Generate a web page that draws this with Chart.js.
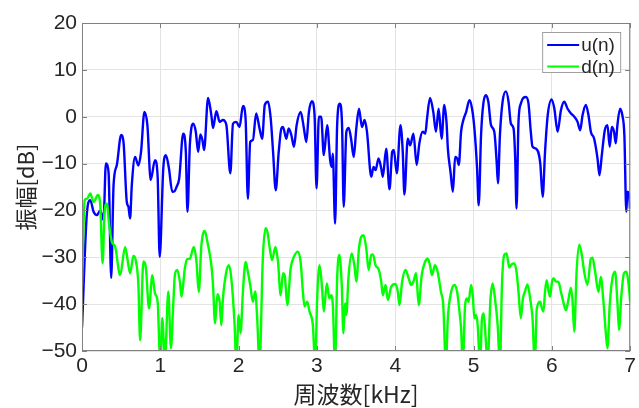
<!DOCTYPE html>
<html>
<head>
<meta charset="utf-8">
<script src="https://cdn.jsdelivr.net/npm/chart.js@4/dist/chart.umd.min.js"></script>
<style>
  body { margin: 0; background: #fff; }
  #wrap { width: 639px; height: 408px; }
</style>
</head>
<body>
<div id="wrap"><canvas id="myChart" width="639" height="408"></canvas></div>
<script>
// frequency axis [kHz] and levels [dB]
const uFreq = [0, 0.064, 0.106, 0.148, 0.191, 0.233, 0.275, 0.305, 0.339, 0.373, 0.403, 0.445, 0.5, 0.53, 0.572, 0.593, 0.614, 0.636, 0.678, 0.72, 0.754, 0.797, 0.835, 0.877, 0.932, 0.966, 0.992, 1.038, 1.072, 1.11, 1.153, 1.182, 1.207, 1.241, 1.292, 1.326, 1.347, 1.377, 1.419, 1.453, 1.483, 1.512, 1.538, 1.559, 1.61, 1.652, 1.673, 1.716, 1.758, 1.8, 1.843, 1.894, 1.928, 1.97, 2.012, 2.055, 2.089, 2.118, 2.148, 2.182, 2.224, 2.267, 2.301, 2.334, 2.376, 2.41, 2.44, 2.474, 2.512, 2.546, 2.567, 2.609, 2.639, 2.673, 2.707, 2.741, 2.792, 2.834, 2.864, 2.898, 2.936, 2.97, 2.995, 3.025, 3.054, 3.088, 3.131, 3.169, 3.19, 3.203, 3.232, 3.258, 3.292, 3.321, 3.342, 3.376, 3.406, 3.436, 3.47, 3.503, 3.537, 3.575, 3.609, 3.639, 3.694, 3.723, 3.749, 3.787, 3.821, 3.842, 3.884, 3.927, 3.961, 3.982, 4.02, 4.067, 4.096, 4.117, 4.16, 4.19, 4.232, 4.274, 4.308, 4.35, 4.384, 4.406, 4.444, 4.486, 4.52, 4.554, 4.592, 4.626, 4.656, 4.672, 4.706, 4.736, 4.765, 4.791, 4.812, 4.841, 4.875, 4.905, 4.947, 4.981, 5.011, 5.045, 5.066, 5.096, 5.125, 5.159, 5.189, 5.223, 5.265, 5.295, 5.312, 5.337, 5.371, 5.414, 5.447, 5.477, 5.511, 5.532, 5.549, 5.574, 5.604, 5.668, 5.702, 5.731, 5.753, 5.795, 5.854, 5.862, 5.883, 5.913, 5.947, 5.998, 6.032, 6.074, 6.116, 6.159, 6.201, 6.244, 6.286, 6.328, 6.362, 6.392, 6.434, 6.468, 6.498, 6.54, 6.583, 6.608, 6.638, 6.676, 6.71, 6.739, 6.765, 6.794, 6.816, 6.837, 6.871, 6.9, 6.926, 6.951, 6.964, 6.985, 6.998];
const uDb = [-45, -20.3, -17.8, -20.3, -21, -20, -22, -10, -11.8, -34.4, -14.6, -10.3, -3.9, -5.4, -18.2, -19.2, -21.7, -14.6, -8.6, -10.4, -7.5, 1.0, -1.8, -13.5, -9.3, -12.8, -29.9, -11, -8.2, -11, -16, -15.9, -15, -13.2, -3.6, -7.5, -20.3, -6.1, -1.5, -3.2, -7.5, -3.8, -5, -7.1, 4.0, 0.3, -2.4, 1.2, -1.1, -0.7, -1.7, -12.1, -1.5, -1.1, -2.2, 2.3, -0.4, -17.5, -5.4, -5, 0.7, -2.5, -4.7, 2.5, 3.2, -0.4, -7.5, -15.7, -7.5, -2.5, -2.2, -4.7, -2.5, -3.9, -6.4, -1.8, 1.0, -2.5, -5.4, 1.0, 3.3, 0.3, -15.3, 0, 0, -8.2, -1.8, -9.3, -10.7, -7.9, -22.8, -1.8, 2.8, -1.8, -19.2, -3.2, -2.4, -4.7, -8.6, -2.5, 1.7, -2.2, -0.7, -3.2, -12.8, -10.7, -11.4, -8.9, -11, -12.8, -6.8, -15.5, -7.5, -7.1, -12.1, -1.8, -7.5, -16.6, -4.7, -6.1, -3.6, -10.3, -5.7, -3.2, -3.6, -0.4, 4.0, 1.0, -3.2, 1.7, -4.7, 2.5, -1.5, -6.8, -11.8, -16, -8.6, -8.9, -10.3, -3.2, -0.4, 1.0, 3.5, 1.7, -2.5, -11, -18.9, -3.9, 2.8, 4.6, 3.2, -1.8, -3.2, -9.6, -14.2, -3.9, 3.2, 5.4, 3.2, -1.5, -2.5, -8.9, -19.6, -1.1, 2.8, 4.2, 2.8, -3.2, -6.4, -6.8, -10.3, -12.5, -17.1, -7.5, 0.3, 3.7, 1.7, -3.2, 1.4, 3.2, 1.7, 0.7, 0, -1.1, -2.9, 0.3, 2.5, 0.3, -3.2, -4.7, -8.9, -12.5, -8.2, -2.9, -1.8, -6.4, -2.2, -3.2, -5.7, -1.8, 1.7, 0.3, -3.9, -20.3, -16, -16.4, -19.6];

const dFreq = [0, 0.034, 0.064, 0.106, 0.148, 0.203, 0.233, 0.263, 0.288, 0.318, 0.347, 0.381, 0.424, 0.487, 0.551, 0.614, 0.657, 0.686, 0.72, 0.742, 0.784, 0.814, 0.856, 0.898, 0.932, 0.966, 1.0, 1.025, 1.059, 1.102, 1.136, 1.165, 1.186, 1.216, 1.25, 1.271, 1.313, 1.343, 1.377, 1.428, 1.462, 1.491, 1.525, 1.568, 1.601, 1.652, 1.673, 1.699, 1.729, 1.758, 1.779, 1.8, 1.843, 1.877, 1.907, 1.949, 1.97, 2.0, 2.025, 2.055, 2.089, 2.118, 2.148, 2.182, 2.212, 2.237, 2.267, 2.309, 2.343, 2.368, 2.398, 2.427, 2.47, 2.503, 2.537, 2.567, 2.588, 2.622, 2.664, 2.707, 2.758, 2.792, 2.821, 2.842, 2.876, 2.906, 2.948, 2.978, 3.003, 3.033, 3.063, 3.088, 3.126, 3.16, 3.181, 3.203, 3.232, 3.258, 3.287, 3.317, 3.338, 3.359, 3.376, 3.402, 3.444, 3.478, 3.503, 3.537, 3.567, 3.596, 3.63, 3.66, 3.694, 3.715, 3.749, 3.791, 3.821, 3.842, 3.876, 3.906, 3.948, 4.003, 4.033, 4.054, 4.088, 4.13, 4.172, 4.202, 4.232, 4.266, 4.3, 4.338, 4.38, 4.414, 4.444, 4.469, 4.507, 4.541, 4.584, 4.613, 4.647, 4.672, 4.714, 4.757, 4.791, 4.82, 4.841, 4.863, 4.892, 4.918, 4.935, 4.969, 4.99, 5.011, 5.032, 5.053, 5.083, 5.108, 5.13, 5.155, 5.18, 5.214, 5.244, 5.274, 5.308, 5.337, 5.363, 5.392, 5.422, 5.456, 5.486, 5.519, 5.549, 5.574, 5.604, 5.63, 5.655, 5.689, 5.723, 5.753, 5.782, 5.808, 5.854, 5.862, 5.892, 5.913, 5.934, 5.96, 5.977, 6.002, 6.023, 6.053, 6.083, 6.116, 6.146, 6.18, 6.214, 6.244, 6.265, 6.286, 6.316, 6.35, 6.383, 6.413, 6.455, 6.498, 6.519, 6.553, 6.595, 6.625, 6.659, 6.688, 6.71, 6.739, 6.773, 6.807, 6.837, 6.858, 6.888, 6.921, 6.951, 6.985, 7.0];
const dDb = [-36.3, -17.8, -17.5, -16.4, -18.2, -16.7, -18.9, -31.3, -20.3, -18.5, -23.1, -26.7, -27.8, -33.8, -27.8, -33.4, -29.7, -30.6, -35.9, -47.7, -30.9, -32, -40.9, -33.8, -37.7, -39.5, -53, -43, -52, -37.3, -49.4, -40.2, -33.8, -32.7, -35.2, -38.4, -32.4, -30.4, -30.3, -27.8, -31, -37.4, -27.4, -24.4, -26.7, -31.7, -35.9, -44.1, -37.9, -39.5, -44.5, -38.8, -33.1, -31.7, -34.5, -44.5, -53, -42.3, -46.2, -37.3, -31, -33.1, -35.9, -39.5, -37.3, -43, -53, -30.3, -23.8, -24.6, -28.1, -30.6, -27.8, -31, -38.1, -33.4, -33.8, -40.2, -32.4, -29.9, -28.8, -31, -37.4, -40.5, -39.5, -41.6, -44.5, -53, -38.8, -31.7, -35.9, -41.6, -35.6, -38.8, -38.1, -40.2, -53, -34.5, -29.5, -35.9, -46.2, -39.8, -42.3, -34.5, -29.2, -31.7, -35.2, -28.1, -25.6, -25.3, -28.1, -32.7, -29.5, -29.4, -31.7, -32.7, -35.2, -38.1, -35.9, -39.1, -36.3, -35.7, -37.4, -40.2, -35.2, -32.7, -34.5, -35.9, -35.2, -33.4, -40.2, -33.8, -31, -30.3, -31.7, -33.8, -31.7, -33.1, -37.4, -40.2, -53, -43, -37.4, -35.9, -37.4, -41.6, -45.2, -53, -40.2, -38.8, -39.5, -35.9, -38.1, -43, -42.3, -44.5, -53, -43, -42, -47.3, -53, -39.5, -35.6, -38.8, -44.5, -53, -35.9, -29.5, -29.2, -32.2, -31.5, -31.3, -33.1, -37.4, -43, -38.8, -37.4, -35.8, -38.8, -43, -53, -40.9, -39.5, -40.2, -41.6, -37.4, -34.9, -37.4, -38.4, -35.2, -34.5, -35.2, -35.2, -37.4, -39.5, -41.3, -38.8, -36.5, -39.5, -45.9, -33.1, -27.3, -29.5, -33.1, -35.9, -30.3, -30.1, -33.1, -37.4, -34.2, -39.5, -45.9, -49.4, -40.2, -34.5, -33.1, -39.5, -45.5, -38.1, -33.4, -33.1, -36.6, -39.5];

const xTicks = [0, 1, 2, 3, 4, 5, 6, 7];
const yTicks = [-50, -40, -30, -20, -10, 0, 10, 20];

const toPoints = (xs, ys) => xs.map((x, i) => ({ x: x, y: ys[i] }));

// box, inward ticks and the legend, drawn like the original figure
const boxPlugin = {
    id: 'boxPlugin',
    afterDraw(chart) {
        const ctx = chart.ctx;
        const a = chart.chartArea;
        const xs = chart.scales.x, ys = chart.scales.y;
        ctx.save();
        ctx.strokeStyle = '#808080';
        ctx.lineWidth = 1;
        ctx.strokeRect(a.left + 0.5, a.top + 0.5, a.right - a.left - 1, a.bottom - a.top - 1);
        ctx.beginPath();
        xTicks.forEach(t => {
            const px = Math.round(xs.getPixelForValue(t)) + 0.5;
            ctx.moveTo(px, a.bottom); ctx.lineTo(px, a.bottom - 5);
            ctx.moveTo(px, a.top); ctx.lineTo(px, a.top + 5);
        });
        yTicks.forEach(t => {
            const py = Math.round(ys.getPixelForValue(t)) + 0.5;
            ctx.moveTo(a.left, py); ctx.lineTo(a.left + 5, py);
            ctx.moveTo(a.right, py); ctx.lineTo(a.right - 5, py);
        });
        ctx.stroke();

        // legend
        const lx = a.right - 88, ly = a.top + 9, lw = 78, lh = 40;
        ctx.fillStyle = '#ffffff';
        ctx.fillRect(lx, ly, lw, lh);
        ctx.strokeStyle = '#a0a0a0';
        ctx.strokeRect(lx + 0.5, ly + 0.5, lw, lh);
        ctx.font = '19px "Liberation Sans", Arial, sans-serif';
        ctx.textBaseline = 'middle';
        chart.data.datasets.forEach((ds, i) => {
            const y = ly + 13 + i * 21.5;
            ctx.strokeStyle = ds.borderColor;
            ctx.lineWidth = 2;
            ctx.beginPath();
            ctx.moveTo(lx + 5, y); ctx.lineTo(lx + 37, y);
            ctx.stroke();
            ctx.fillStyle = '#262626';
            ctx.fillText(ds.label, lx + 39, y + 1);
        });
        ctx.restore();
    }
};

const tickFont = { family: '"Liberation Sans", Arial, sans-serif', size: 21 };
const titleFont = { family: '"Noto Sans CJK JP", sans-serif', size: 22 };

const config = {
    type: 'line',
    data: {
        datasets: [
            {
                label: 'u(n)',
                data: toPoints(uFreq, uDb),
                borderColor: '#0000ff',
                borderWidth: 2.4,
                pointRadius: 0,
                cubicInterpolationMode: 'monotone',
                order: 2
            },
            {
                label: 'd(n)',
                data: toPoints(dFreq, dDb),
                borderColor: '#00ff00',
                borderWidth: 2.4,
                pointRadius: 0,
                cubicInterpolationMode: 'monotone',
                order: 1
            }
        ]
    },
    options: {
        responsive: false,
        animation: false,
        layout: { padding: { left: 0, top: 23, right: 6, bottom: 0 } },
        plugins: {
            legend: { display: false },
            tooltip: { enabled: false }
        },
        scales: {
            x: {
                type: 'linear',
                min: 0,
                max: 7,
                afterBuildTicks: scale => { scale.ticks = xTicks.map(v => ({ value: v })); },
                afterFit: scale => { scale.height = 57; },
                grid: { color: '#e3e3e3', drawTicks: false },
                border: { display: false },
                ticks: { color: '#262626', font: tickFont, padding: 3, maxRotation: 0 },
                title: { display: true, text: '周波数[kHz]', color: '#262626', font: { family: '"Noto Sans CJK JP", sans-serif', size: 23 }, padding: { top: 0, bottom: 0 } }
            },
            y: {
                min: -50,
                max: 20,
                afterBuildTicks: scale => { scale.ticks = yTicks.map(v => ({ value: v })); },
                afterFit: scale => { scale.width = 82; },
                grid: { color: '#e3e3e3', drawTicks: false },
                border: { display: false },
                ticks: {
                    color: '#262626',
                    font: tickFont,
                    padding: 5,
                    callback: v => String(v).replace('-', '\u2212')
                },
                title: { display: true, text: '振幅[dB]', color: '#262626', font: titleFont, padding: { top: 12, bottom: 0 } }
            }
        }
    },
    plugins: [boxPlugin]
};

const myChart = new Chart(document.getElementById('myChart'), config);
</script>
</body>
</html>
